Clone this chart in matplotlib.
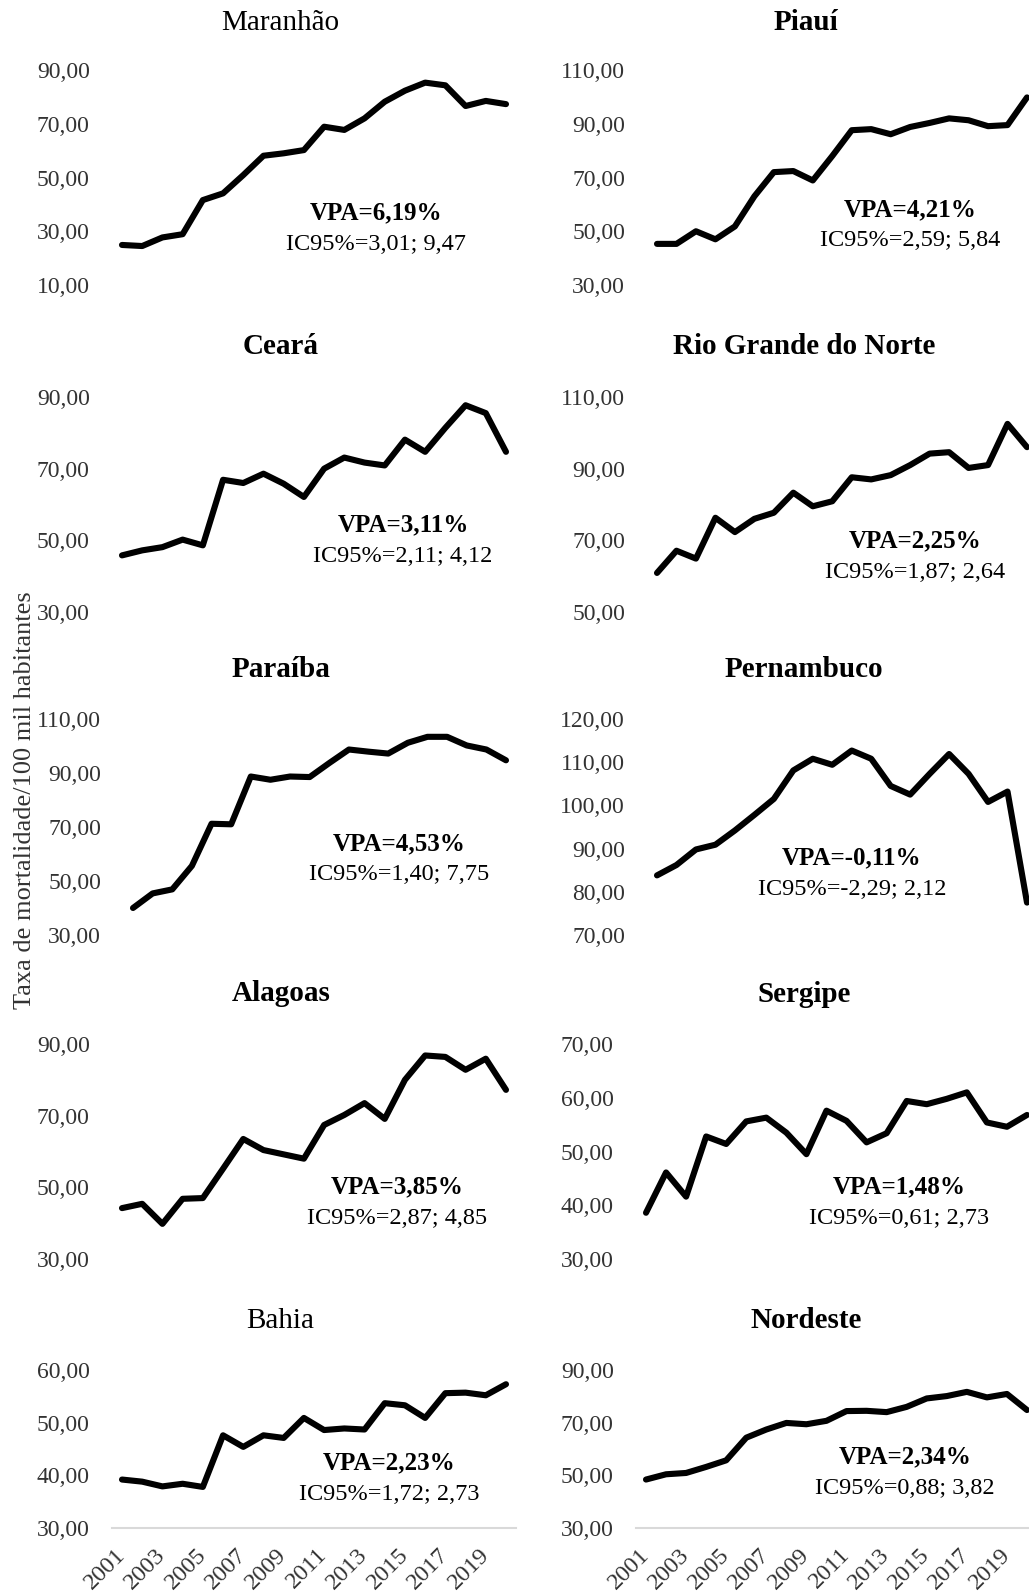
import numpy as np
import matplotlib
matplotlib.use("Agg")
import matplotlib.pyplot as plt
from matplotlib.ticker import FuncFormatter

plt.rcParams['font.family'] = ['Liberation Serif', 'DejaVu Serif']

years = np.arange(2001, 2021)

maranhao = [24.9, 24.5, 27.7, 28.9, 41.6, 44.1, 50.9, 58.1, 59.0, 60.2,
            68.9, 67.7, 72.0, 78.2, 82.3, 85.3, 84.3, 76.6, 78.5, 77.3]
piaui = [45.3, 45.3, 50.0, 47.0, 51.8, 63.0, 72.0, 72.4, 68.9, 78.0,
         87.6, 88.0, 86.1, 88.8, 90.3, 92.0, 91.3, 89.1, 89.5, 99.8]
ceara = [45.8, 47.2, 48.1, 50.2, 48.6, 66.9, 66.0, 68.6, 65.8, 62.1,
         70.0, 73.1, 71.7, 70.9, 78.1, 74.7, 81.4, 87.7, 85.5, 74.7]
rgn = [60.9, 67.1, 64.9, 76.3, 72.3, 76.0, 77.7, 83.3, 79.5, 80.9,
       87.6, 87.0, 88.2, 91.0, 94.2, 94.6, 90.2, 91.0, 102.5, 96.0]
paraiba = [40.0, 45.4, 46.9, 55.6, 71.2, 71.0, 88.7, 87.5, 88.7, 88.5,
           93.7, 98.7, 97.9, 97.2, 101.2, 103.4, 103.4, 100.2, 98.7, 94.7]
pernambuco = [83.8, 86.2, 89.8, 90.9, 94.2, 97.8, 101.5, 108.1, 110.8, 109.4,
              112.7, 110.8, 104.5, 102.5, 107.3, 111.9, 107.3, 100.8, 103.2, 77.5]
alagoas = [44.2, 45.4, 39.8, 46.8, 47.0, 55.2, 63.5, 60.4, 59.2, 58.0,
           67.4, 70.2, 73.5, 69.1, 80.0, 86.8, 86.4, 82.8, 85.9, 77.2]
sergipe = [38.6, 46.1, 41.6, 52.8, 51.4, 55.6, 56.3, 53.5, 49.5, 57.6,
           55.7, 51.7, 53.4, 59.4, 58.8, 59.8, 61.0, 55.4, 54.6, 56.8]
bahia = [39.2, 38.8, 37.9, 38.4, 37.8, 47.6, 45.4, 47.6, 47.1, 50.9,
         48.6, 48.9, 48.7, 53.7, 53.3, 50.9, 55.6, 55.7, 55.2, 57.3]
nordeste = [48.4, 50.4, 50.9, 53.2, 55.7, 64.3, 67.4, 69.9, 69.4, 70.7,
            74.4, 74.5, 74.0, 76.0, 79.2, 80.1, 81.7, 79.6, 80.9, 74.8]

names = ["Maranhão", "Piauí", "Ceará", "Rio Grande do Norte", "Paraíba",
         "Pernambuco", "Alagoas", "Sergipe", "Bahia", "Nordeste"]
series = [maranhao, piaui, ceara, rgn, paraiba, pernambuco, alagoas,
          sergipe, bahia, nordeste]
bold_title = [False, True, True, True, True, True, True, True, False, True]
y_min = [10, 30, 30, 50, 30, 70, 30, 30, 30, 30]
y_max = [90, 110, 90, 110, 110, 120, 90, 70, 60, 90]
y_step = [20, 20, 20, 20, 20, 10, 20, 10, 10, 20]
vpa = ["6,19", "4,21", "3,11", "2,25", "4,53", "-0,11", "3,85", "1,48", "2,23", "2,34"]
ic95 = ["3,01; 9,47", "2,59; 5,84", "2,11; 4,12", "1,87; 2,64", "1,40; 7,75",
        "-2,29; 2,12", "2,87; 4,85", "0,61; 2,73", "1,72; 2,73", "0,88; 3,82"]

W, H = 1029, 1593
fig = plt.figure(figsize=(W / 100, H / 100), dpi=100)

# layout in pixels: x of first/last year, top/bottom of plot area
x_first = [122, 657, 122, 657, 133, 657, 122, 646, 122, 646]
x_last = [506, 1027, 506, 1027, 506, 1027, 506, 1027, 506, 1027]
rows_y = [(70, 285), (397, 612), (719, 935), (1044, 1259), (1370, 1528)]
title_xy = [(280, 23), (806, 23), (281, 346), (804, 346), (281, 670),
            (804, 670), (281, 994), (804, 995), (280, 1321), (806, 1321)]
text_xy = [(376, 213), (910, 210), (403, 525), (915, 541), (399, 844),
           (852, 858), (397, 1187), (899, 1187), (389, 1463), (905, 1457)]

fmt = FuncFormatter(lambda v, p: f"{v:.2f}".replace(".", ","))

for i in range(10):
    top, bot = rows_y[i // 2]
    step = (x_last[i] - x_first[i]) / 19
    left = x_first[i] - step / 2
    right = x_last[i] + step / 2
    ax = fig.add_axes([left / W, 1 - bot / H, (right - left) / W, (bot - top) / H])
    ax.plot(years, series[i], color='black', lw=4.4,
            solid_capstyle='round', solid_joinstyle='round', clip_on=False)
    ax.set_xlim(2000.5, 2020.5)
    ax.set_ylim(y_min[i], y_max[i])
    ax.set_yticks(np.arange(y_min[i], y_max[i] + 0.1, y_step[i]))
    ax.yaxis.set_major_formatter(fmt)
    ax.tick_params(axis='y', length=0, pad=16, labelsize=17, labelcolor='#333333')
    for s in ['top', 'right', 'left']:
        ax.spines[s].set_visible(False)
    if i >= 8:
        ax.spines['bottom'].set_color('#d9d9d9')
        ax.spines['bottom'].set_linewidth(1.5)
        ax.set_xticks(years[::2])
        ax.set_xticklabels([str(y) for y in years[::2]], rotation=45,
                           ha='right', va='center', rotation_mode='anchor')
        ax.tick_params(axis='x', length=0, pad=17, labelsize=17.5, labelcolor='#333333')
    else:
        ax.spines['bottom'].set_visible(False)
        ax.set_xticks([])
    ax.patch.set_alpha(0)

    tx, ty = title_xy[i]
    fig.text(tx / W, 1 - ty / H, names[i], ha='center', va='center', fontsize=21,
             fontweight='bold' if bold_title[i] else 'normal')
    vx, vy = text_xy[i]
    fig.text(vx / W, 1 - vy / H, f"VPA={vpa[i]}%", ha='center', va='center',
             fontsize=18, fontweight='bold')
    fig.text(vx / W, 1 - (vy + 31) / H, f"IC95%={ic95[i]}", ha='center', va='center',
             fontsize=17.5)

fig.text(25 / W, 1 - 800 / H, "Taxa de mortalidade/100 mil habitantes",
         rotation=90, ha='center', va='center', fontsize=19, color='#333333')

fig.savefig("out.png", dpi=100)
